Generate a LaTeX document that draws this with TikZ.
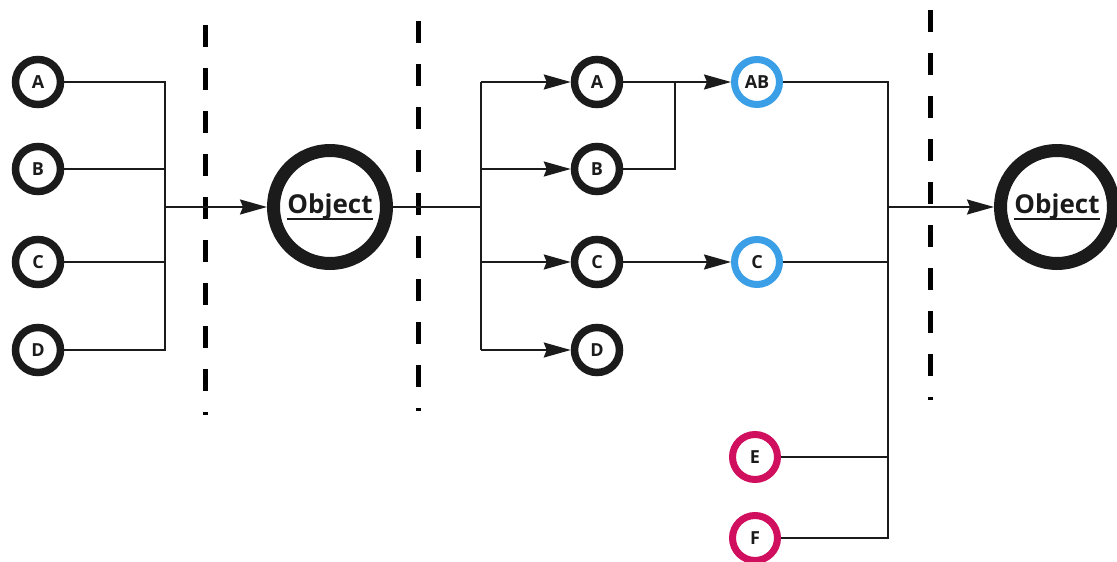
\documentclass[tikz,border=0pt]{standalone}
\usepackage{fontspec}
\setmainfont{Open Sans}[BoldFont={* Bold}]
\usetikzlibrary{arrows.meta}
\definecolor{ink}{HTML}{1B1B1B}
\definecolor{stepblue}{HTML}{3A9FE6}
\definecolor{stepred}{HTML}{D0105E}
% underlined word with the rule set a fixed distance under the baseline
\newcommand\ulword[1]{\setbox0\hbox{#1}\rlap{\rule[-6pt]{\wd0}{1.6pt}}\box0}
\begin{document}
\begin{tikzpicture}[x=1pt,y=-1pt,
  item/.style={circle,draw=ink,line width=7.5pt,minimum size=45pt,inner sep=0pt,
    font=\bfseries\fontsize{18}{18}\selectfont,text=ink},
  blueitem/.style={item,draw=stepblue,line width=7pt},
  reditem/.style={item,draw=stepred,line width=7pt},
  object/.style={circle,draw=ink,line width=13pt,minimum size=113pt,inner sep=0pt,
    font=\bfseries\fontsize{26}{26}\selectfont,text=ink},
  wire/.style={draw=ink,line width=1.9pt},
  flow/.style={wire,-{Stealth[length=27pt,width=15pt,inset=3pt]}},
  cut/.style={draw=black,line width=5pt,dash pattern=on 22pt off 21pt}]
\useasboundingbox (0,0) rectangle (1117,562);

% stage boundaries
\draw[cut] (205,25) -- (205,415);
\draw[cut] (418,21) -- (418,411);
\draw[cut] (930,10) -- (930,400);

% first stage: parts merge into an object
\node[item] (lA) at (38,82) {A};
\node[item] (lB) at (38,169) {B};
\node[item] (lC) at (38,262) {C};
\node[item] (lD) at (38,350) {D};
\node[object] (obj1) at (330,207) {\ulword{Object}};
\coordinate (j1) at (165,207);
\draw[wire] (lA.east) -- (lA -| j1) -- (lD -| j1) -- (lD.east);
\draw[wire] (lB.east) -- (lB -| j1);
\draw[wire] (lC.east) -- (lC -| j1);
\draw[flow] (j1) -- (obj1.west);

% second stage: object splits into parts
\node[item] (mA) at (597,82) {A};
\node[item] (mB) at (597,169) {B};
\node[item] (mC) at (597,262) {C};
\node[item] (mD) at (597,350) {D};
\coordinate (j2) at (481,207);
\draw[wire] (obj1.east) -- (j2);
\draw[wire] (mA -| j2) -- (mD -| j2);
\draw[flow] (mA -| j2) -- (mA.west);
\draw[flow] (mB -| j2) -- (mB.west);
\draw[flow] (mC -| j2) -- (mC.west);
\draw[flow] (mD -| j2) -- (mD.west);

% regrouping
\node[blueitem] (AB) at (757,82) {AB};
\node[blueitem] (bC) at (757,262) {C};
\node[reditem] (E) at (755,457) {E};
\node[reditem] (F) at (755,538) {F};
\coordinate (k) at (675,82);
\draw[wire] (mA.east) -- (k);
\draw[wire] (mB.east) -| (k);
\draw[flow] (k) -- (AB.west);
\draw[flow] (mC.east) -- (bC.west);

% third stage: merge into the new object
\node[object] (obj2) at (1057,207) {\ulword{Object}};
\coordinate (j3) at (888,207);
\draw[wire] (AB.east) -- (AB -| j3) -- (F -| j3) -- (F.east);
\draw[wire] (bC.east) -- (bC -| j3);
\draw[wire] (E.east) -- (E -| j3);
\draw[flow] (j3) -- (obj2.west);
\end{tikzpicture}
\end{document}
